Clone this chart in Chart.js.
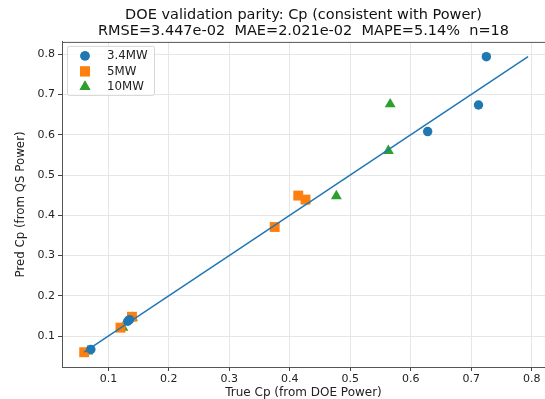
<!DOCTYPE html>
<html>
<head>
<meta charset="utf-8">
<script src="https://cdn.jsdelivr.net/npm/chart.js@4/dist/chart.umd.min.js"></script>
<style>
  html, body { margin: 0; padding: 0; background: #fff; }
  #wrap { width: 545px; height: 399px; }
</style>
</head>
<body>
<div id="wrap"><canvas id="parityChart" width="545" height="399"></canvas></div>
<script>
// series: true Cp (DOE power) vs predicted Cp (QS power)
const true34 = [0.071, 0.132, 0.135, 0.628, 0.712, 0.725];
const pred34 = [0.067, 0.137, 0.141, 0.608, 0.674, 0.794];
const true5 = [0.060, 0.120, 0.139, 0.375, 0.414, 0.426];
const pred5 = [0.060, 0.121, 0.148, 0.371, 0.449, 0.439];
const true10 = [0.066, 0.124, 0.140, 0.477, 0.563, 0.566];
const pred10 = [0.062, 0.121, 0.146, 0.448, 0.560, 0.676];
const seriesLabels = ['3.4MW', '5MW', '10MW'];
const seriesColors = ['#1f77b4', '#ff7f0e', '#2ca02c'];
const seriesMarkers = ['circle', 'rect', 'triangle'];
const titleLines = [
    'DOE validation parity: Cp (consistent with Power)',
    'RMSE=3.447e-02  MAE=2.021e-02  MAPE=5.14%  n=18'
];

const FONT = 'DejaVu Sans';
const pts = (xs, ys) => xs.map((x, i) => ({ x: x, y: ys[i] }));

const allVals = [].concat(true34, pred34, true5, pred5, true10, pred10);
const lo = Math.min(...allVals);
const hi = Math.max(...allVals);

const sizes = [4.7, 7, 6.3];

// legend box in the top-left of the plot
const legendBox = {
    id: 'legendBox',
    afterDraw(chart) {
        const ctx = chart.ctx;
        const a = chart.chartArea;
        const x0 = a.left + 5, y0 = a.top + 4;
        const w = 87, h = 49;
        ctx.save();
        ctx.fillStyle = 'rgba(255,255,255,0.8)';
        ctx.strokeStyle = '#d6d6d6';
        ctx.lineWidth = 1;
        ctx.beginPath();
        ctx.roundRect(x0 + 0.5, y0 + 0.5, w, h, 2);
        ctx.fill();
        ctx.stroke();
        ctx.font = '11.8px "' + FONT + '"';
        ctx.textBaseline = 'middle';
        seriesLabels.forEach((lab, i) => {
            const cy = y0 + 10 + i * 15.5;
            ctx.fillStyle = seriesColors[i];
            ctx.beginPath();
            Chart.helpers.drawPoint(ctx, {
                pointStyle: seriesMarkers[i],
                radius: sizes[i],
                rotation: 0,
                borderWidth: 0
            }, x0 + 18, cy);
            ctx.fill();
            ctx.fillStyle = '#222';
            ctx.fillText(lab, x0 + 40, cy + 0.5);
        });
        ctx.restore();
    }
};

// top spine
const topSpine = {
    id: 'topSpine',
    afterDatasetsDraw(chart) {
        const ctx = chart.ctx;
        const a = chart.chartArea;
        ctx.save();
        ctx.strokeStyle = '#555';
        ctx.lineWidth = 1;
        ctx.beginPath();
        ctx.moveTo(a.left, a.top + 0.5);
        ctx.lineTo(a.right, a.top + 0.5);
        ctx.stroke();
        ctx.restore();
    }
};

const scatterSet = (i, data) => ({
    type: 'scatter',
    label: seriesLabels[i],
    data: data,
    pointStyle: seriesMarkers[i],
    pointRadius: sizes[i],
    pointHoverRadius: sizes[i],
    pointBackgroundColor: seriesColors[i],
    pointBorderWidth: 0,
    borderColor: seriesColors[i],
    order: 2
});

const ctx = document.getElementById('parityChart').getContext('2d');
new Chart(ctx, {
    type: 'scatter',
    data: {
        datasets: [
            scatterSet(0, pts(true34, pred34)),
            scatterSet(1, pts(true5, pred5)),
            scatterSet(2, pts(true10, pred10)),
            {
                type: 'line',
                label: 'y=x',
                data: [{ x: lo, y: lo }, { x: hi, y: hi }],
                borderColor: '#1f77b4',
                borderWidth: 1.5,
                pointRadius: 0,
                fill: false,
                order: 0
            }
        ]
    },
    options: {
        responsive: false,
        animation: false,
        devicePixelRatio: 1,
        layout: { autoPadding: false, padding: { left: 0, right: 0, top: 0, bottom: 0 } },
        plugins: {
            legend: { display: false },
            tooltip: { enabled: false },
            title: {
                display: true,
                fullSize: false,
                text: titleLines,
                color: '#111',
                font: { family: FONT, size: 14.5, weight: 'normal', lineHeight: 1.1 },
                padding: { top: 7.5, bottom: 2.5 }
            }
        },
        scales: {
            x: {
                type: 'linear',
                min: 0.0233,
                max: 0.822,
                afterFit(s) { s.height = 32; s.paddingRight = 0; s.paddingLeft = 0; },
                ticks: {
                    stepSize: 0.1,
                    includeBounds: false,
                    color: '#222',
                    padding: 2,
                    maxRotation: 0,
                    font: { family: FONT, size: 11 },
                    callback: v => v.toFixed(1)
                },
                grid: { color: '#e6e6e6', tickColor: '#444', tickLength: 4 },
                border: { color: '#555', width: 1 },
                title: {
                    display: true,
                    text: 'True Cp (from DOE Power)',
                    color: '#222',
                    font: { family: FONT, size: 12, lineHeight: 1.1 },
                    padding: { top: 0, bottom: 0 }
                }
            },
            y: {
                type: 'linear',
                min: 0.0233,
                max: 0.8307,
                afterFit(s) { s.width = 62; s.paddingTop = 0; s.paddingBottom = 0; },
                ticks: {
                    stepSize: 0.1,
                    includeBounds: false,
                    color: '#222',
                    padding: 3,
                    font: { family: FONT, size: 11 },
                    callback: v => v.toFixed(1)
                },
                grid: { color: '#e6e6e6', tickColor: '#444', tickLength: 4 },
                border: { color: '#555', width: 1 },
                title: {
                    display: true,
                    text: 'Pred Cp (from QS Power)',
                    color: '#222',
                    font: { family: FONT, size: 11.8, lineHeight: 1.1 },
                    padding: { top: 14, bottom: 0 }
                }
            }
        }
    },
    plugins: [topSpine, legendBox]
});
</script>
</body>
</html>
